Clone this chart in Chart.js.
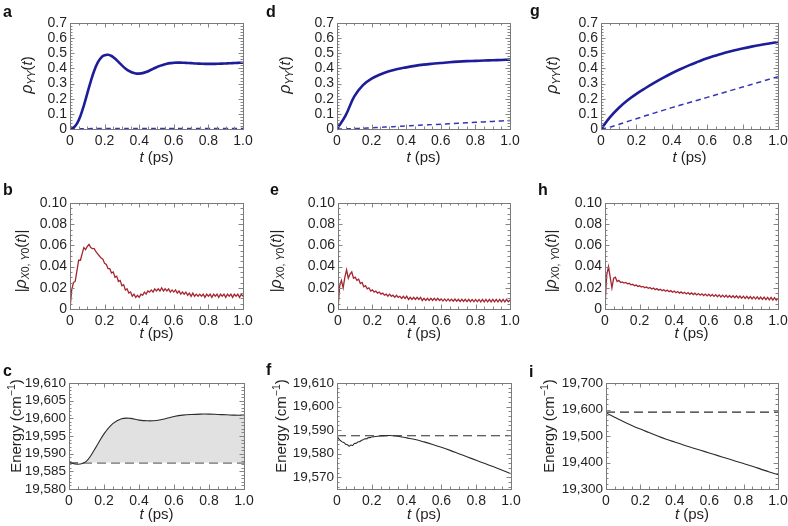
<!DOCTYPE html>
<html><head><meta charset="utf-8">
<script src="https://cdn.jsdelivr.net/npm/chart.js@4.4.1/dist/chart.umd.min.js"></script>
<style>
html,body{margin:0;padding:0;background:#fff;width:788px;height:526px;overflow:hidden;position:relative}
canvas{position:absolute}
.lbl{position:absolute;font:bold 16px "Liberation Sans",Arial,sans-serif;line-height:16px;color:#111}
</style></head><body>
<script>
// ---------- sampling grids (ps) ----------
const tFine = Array.from({length:101},(_,i)=>+(i/100).toFixed(2));
const tMid = Array.from({length:51},(_,i)=>+(i/50).toFixed(2));
const tCoarse = Array.from({length:21},(_,i)=>+(i/20).toFixed(2));

// ---------- tick labels ----------
const xTicks = [0,0.2,0.4,0.6,0.8,1.0];
const xTickLabels = ['0','0.2','0.4','0.6','0.8','1.0'];
const popTicks = [0,0.1,0.2,0.3,0.4,0.5,0.6,0.7];
const popTickLabels = ['0','0.1','0.2','0.3','0.4','0.5','0.6','0.7'];
const cohTicks = [0,0.02,0.04,0.06,0.08,0.10];
const cohTickLabels = ['0','0.02','0.04','0.06','0.08','0.10'];
const cTicks = [19580,19585,19590,19595,19600,19605,19610];
const cTickLabels = ['19,580','19,585','19,590','19,595','19,600','19,605','19,610'];
const fTicks = [19570,19580,19590,19600,19610];
const fTickLabels = ['19,570','19,580','19,590','19,600','19,610'];
const iTicks = [19300,19400,19500,19600,19700];
const iTickLabels = ['19,300','19,400','19,500','19,600','19,700'];

// ---------- panel a : rho_YY (solid on tMid, dashed on tCoarse) ----------
const aSolid = [0,0.008,0.035,0.085,0.155,0.235,0.315,0.385,0.438,0.472,
  0.487,0.490,0.482,0.465,0.443,0.420,0.400,0.384,0.373,0.367,
  0.366,0.369,0.376,0.386,0.397,0.408,0.417,0.425,0.431,0.435,
  0.437,0.438,0.438,0.437,0.436,0.435,0.433,0.432,0.431,0.430,
  0.430,0.430,0.430,0.431,0.432,0.433,0.434,0.435,0.436,0.437,0.438];
const aDashed = [0,0.001,0.002,0.003,0.003,0.004,0.004,0.004,0.004,0.004,0.004,
  0.004,0.004,0.004,0.004,0.004,0.004,0.004,0.004,0.004,0.004];
// ---------- panel d ----------
const dSolid = [0,0.09,0.215,0.29,0.333,0.36,0.381,0.396,0.407,0.417,0.425,
  0.431,0.436,0.441,0.445,0.448,0.450,0.452,0.454,0.456,0.458];
const dDashed = [0,0.001,0.003,0.005,0.008,0.011,0.014,0.017,0.020,0.023,0.026,
  0.029,0.032,0.035,0.038,0.041,0.044,0.047,0.050,0.053,0.056];
// ---------- panel g ----------
const gSolid = [0,0.077,0.139,0.190,0.232,0.269,0.304,0.337,0.368,0.396,0.422,
  0.445,0.467,0.486,0.504,0.519,0.532,0.544,0.555,0.565,0.575];
const gDashed = [0,0.012,0.030,0.050,0.068,0.087,0.105,0.123,0.141,0.158,0.175,
  0.192,0.209,0.226,0.243,0.260,0.277,0.294,0.311,0.328,0.345];

// ---------- panel b : |rho_X0,Y0| (tFine) ----------
const bVals = [0,0.018,0.025,0.026,0.036,0.046,0.046,0.052,0.058,0.056,
  0.059,0.061,0.058,0.057,0.057,0.054,0.052,0.050,0.048,0.047,
  0.043,0.042,0.038,0.038,0.034,0.035,0.030,0.031,0.026,0.027,
  0.022,0.023,0.018,0.019,0.015,0.016,0.012,0.014,0.011,0.013,
  0.011,0.014,0.013,0.016,0.014,0.017,0.016,0.018,0.016,0.019,
  0.017,0.019,0.017,0.020,0.017,0.019,0.017,0.019,0.016,0.018,
  0.016,0.018,0.015,0.017,0.014,0.016,0.014,0.016,0.013,0.015,
  0.012,0.015,0.012,0.014,0.012,0.014,0.012,0.014,0.011,0.014,
  0.012,0.014,0.011,0.014,0.012,0.014,0.011,0.014,0.012,0.014,
  0.011,0.014,0.012,0.014,0.011,0.014,0.012,0.014,0.011,0.014,
  0.012];
// ---------- panel e ----------
const eVals = [0,0.022,0.027,0.020,0.030,0.037,0.029,0.033,0.035,0.029,
  0.030,0.027,0.028,0.024,0.025,0.021,0.022,0.019,0.020,0.017,
  0.018,0.016,0.017,0.015,0.016,0.014,0.015,0.013,0.014,0.012,
  0.014,0.012,0.013,0.011,0.013,0.011,0.012,0.010,0.012,0.010,
  0.012,0.009,0.011,0.009,0.011,0.009,0.011,0.009,0.011,0.008,
  0.010,0.008,0.010,0.008,0.010,0.008,0.010,0.008,0.010,0.008,
  0.0095,0.0075,0.0095,0.0075,0.0095,0.0075,0.0093,0.0073,0.0093,0.0073,
  0.0092,0.0071,0.0092,0.0071,0.0091,0.0070,0.0091,0.0070,0.0090,0.0069,
  0.0090,0.0069,0.0090,0.0068,0.0090,0.0068,0.0090,0.0068,0.0090,0.0068,
  0.0090,0.0068,0.0090,0.0068,0.0090,0.0068,0.0090,0.0068,0.0090,0.0068,
  0.0085];
// ---------- panel h ----------
const hVals = [0.003,0.032,0.040,0.030,0.020,0.029,0.030,0.026,0.027,0.025,
  0.0255,0.0245,0.025,0.0237,0.0242,0.0228,0.0233,0.0220,0.0226,0.0213,
  0.0219,0.0207,0.0213,0.0201,0.0208,0.0195,0.0202,0.0189,0.0197,0.0183,
  0.0192,0.0178,0.0187,0.0173,0.0182,0.0168,0.0178,0.0163,0.0173,0.0158,
  0.0169,0.0154,0.0165,0.0150,0.0161,0.0146,0.0158,0.0142,0.0155,0.0139,
  0.0152,0.0136,0.0149,0.0133,0.0146,0.0130,0.0143,0.0127,0.0141,0.0124,
  0.0139,0.0121,0.0137,0.0119,0.0135,0.0116,0.0133,0.0114,0.0131,0.0112,
  0.0129,0.0110,0.0127,0.0108,0.0125,0.0106,0.0124,0.0104,0.0122,0.0102,
  0.0121,0.0100,0.0119,0.0098,0.0118,0.0096,0.0116,0.0094,0.0115,0.0092,
  0.0113,0.0090,0.0112,0.0088,0.0110,0.0086,0.0109,0.0084,0.0107,0.0082,
  0.0100];

// ---------- panel c : energy (tCoarse) ----------
const cSolid = [19587.5,19587.0,19587.9,19591.5,19595.6,19598.5,19599.9,19600.0,19599.5,19599.3,19599.4,
  19599.9,19600.5,19600.9,19601.1,19601.2,19601.2,19601.1,19601.0,19600.9,19600.9];
const cRef = 19587.4;
// ---------- panel f ----------
const fTimes = [0,0.01,0.02,0.03,0.04,0.05,0.06,0.07,0.08,0.09,0.10,0.11,0.12,0.13,0.14,0.15,0.16,0.17,0.18,0.19,0.20,
  0.25,0.30,0.35,0.40,0.45,0.50,0.55,0.60,0.65,0.70,0.75,0.80,0.85,0.90,0.95,1.00];
const fSolid = [19587.7,19586.3,19585.6,19585.0,19584.7,19584.0,19583.8,19583.2,19583.7,19583.5,19584.3,
  19584.4,19585.0,19585.1,19585.6,19585.9,19586.3,19586.3,19586.8,19586.8,19587.1,
  19587.5,19587.7,19587.4,19586.7,19586.0,19585.0,19583.9,19582.7,19581.4,19580.0,
  19578.6,19577.2,19575.8,19574.4,19573.0,19571.5];
const fRef = 19587.6;
// ---------- panel i ----------
const iSolid = [19587,19571,19555,19540,19526,19513,19500,19488,19477,19466,19456,
  19446,19436,19426,19416,19406,19396,19386,19375,19364,19354];
const iRef = 19590;

// ---------- styling ----------
const FONT = '"Liberation Sans", Arial, Helvetica, sans-serif';
const TXT = '#231f20';
const BLUE = '#1d1d9a', BLUE2 = '#3535b8', RED = '#a52630', BLK = '#2b2b2b';
const N = '15px '+FONT, I = 'italic 15px '+FONT, S = 'italic 10.5px '+FONT, Sn = '10.5px '+FONT;
const titlePop = [{t:'ρ',f:'italic 16px '+FONT},{t:'YY',f:S,dy:3},{t:'(',f:N},{t:'t',f:I},{t:')',f:N}];
const titleCoh = [{t:'|',f:N},{t:'ρ',f:'italic 16px '+FONT},{t:'X',f:S,dy:3},{t:'0, ',f:Sn,dy:3},{t:'Y',f:S,dy:3},{t:'0',f:Sn,dy:3},{t:'(',f:N},{t:'t',f:I},{t:')|',f:N}];
const titleEn = [{t:'Energy (cm',f:N},{t:'−1',f:Sn,dy:-6},{t:')',f:N}];
const titleX = [{t:'t',f:I},{t:' (ps)',f:N}];

const pairs = (xs, ys) => xs.map((x,k)=>({x, y: ys[k]}));
const flat = (xs, v) => xs.map(x=>({x, y: v}));

function drawRich(ctx, segs, cx, cy, rot){
  ctx.save(); ctx.translate(cx, cy); if (rot) ctx.rotate(-Math.PI/2);
  ctx.fillStyle = TXT; ctx.textBaseline = 'alphabetic'; ctx.textAlign = 'left';
  let tot = 0; const ws = [];
  for (const s of segs){ ctx.font = s.f; const w = ctx.measureText(s.t).width; ws.push(w); tot += w; }
  let x = -tot/2;
  segs.forEach((s,k)=>{ ctx.font = s.f; ctx.fillText(s.t, x, 5 + (s.dy||0)); x += ws[k]; });
  ctx.restore();
}

const decor = {
  id: 'decor',
  afterDatasetsDraw(chart){
    const p = chart.options.plugins.decor;
    const ctx = chart.ctx, a = chart.chartArea, xs = chart.scales.x, ys = chart.scales.y;
    ctx.save();
    ctx.strokeStyle = '#858585'; ctx.lineWidth = 1;
    const line = (x1,y1,x2,y2)=>{ ctx.beginPath(); ctx.moveTo(x1,y1); ctx.lineTo(x2,y2); ctx.stroke(); };
    const isMajor = (v, arr) => arr.some(t => Math.abs(t - v) < 1e-7 * Math.max(1, Math.abs(v)));
    let st = Math.ceil(xs.min / p.xMinor - 1e-9);
    for (let k = st; k * p.xMinor <= xs.max + 1e-9; k++){
      const v = k * p.xMinor, L = isMajor(v, p.xMaj) ? 4.5 : 2.5;
      const x = Math.round(xs.getPixelForValue(v)) + 0.5;
      line(x, a.bottom, x, a.bottom - L); line(x, a.top, x, a.top + L);
    }
    st = Math.ceil(ys.min / p.yMinor - 1e-9);
    for (let k = st; k * p.yMinor <= ys.max + 1e-7; k++){
      const v = k * p.yMinor, L = isMajor(v, p.yMaj) ? 4.5 : 2.5;
      const y = Math.round(ys.getPixelForValue(v)) + 0.5;
      line(a.left, y, a.left + L, y); line(a.right, y, a.right - L, y);
    }
    ctx.strokeStyle = '#7a7a7a';
    ctx.strokeRect(Math.round(a.left)+0.5, Math.round(a.top)+0.5, Math.round(a.right - a.left), Math.round(a.bottom - a.top));
    ctx.restore();
    drawRich(ctx, p.yTitle, p.yTitleX - p.cvLeft, p.yTitleY - p.cvTop, true);
    drawRich(ctx, titleX, (a.left + a.right)/2, a.bottom + p.xTitleDy, false);
  }
};

function makePanel(p){
  const cvLeft = p.L - 70, cvTop = p.T - 12;
  const w = p.R - p.L + 86, h = p.B - p.T + 52;
  const cv = document.createElement('canvas');
  cv.width = w; cv.height = h;
  cv.style.left = cvLeft + 'px'; cv.style.top = cvTop + 'px';
  cv.style.width = w + 'px'; cv.style.height = h + 'px';
  document.body.appendChild(cv);
  const tickFont = {family: FONT, size: p.tickSize || 14};
  new Chart(cv.getContext('2d'), {
    type: 'line',
    data: { datasets: p.datasets },
    options: {
      responsive: false, animation: false, devicePixelRatio: 1,
      layout: { padding: { left: 0, top: 12, right: 16, bottom: 0 } },
      elements: { point: { radius: 0 }, line: { tension: 0 } },
      plugins: { legend: { display: false }, tooltip: { enabled: false },
        decor: { xMinor: 0.05, xMaj: xTicks, yMinor: p.yMinor, yMaj: p.yTicks,
          yTitle: p.yTitle, yTitleX: p.yTitleX, yTitleY: p.yTitleY, xTitleDy: p.xTitleDy,
          cvLeft, cvTop } },
      scales: {
        x: { type: 'linear', min: 0, max: 1,
          grid: { display: false, drawTicks: false }, border: { display: false },
          afterBuildTicks: s => { s.ticks = xTicks.map(v => ({value: v})); },
          ticks: { padding: 4, color: TXT, font: {family: FONT, size: 14}, maxRotation: 0, autoSkip: false,
            callback: (v, k) => xTickLabels[k] },
          afterFit: s => { s.height = 40; s.paddingLeft = 0; s.paddingRight = 0; } },
        y: { type: 'linear', min: p.yMin, max: p.yMax,
          grid: { display: false, drawTicks: false }, border: { display: false },
          afterBuildTicks: s => { s.ticks = p.yTicks.map(v => ({value: v})); },
          ticks: { padding: 3, color: TXT, font: tickFont, autoSkip: false,
            callback: (v, k) => p.yTickLabels[k] },
          afterFit: s => { s.width = 70; s.paddingTop = 0; s.paddingBottom = 0; } }
      }
    },
    plugins: [decor]
  });
}

const solidBlue = d => ({data: d, borderColor: BLUE, borderWidth: 2.6, tension: 0.4});
const dashBlue = d => ({data: d, borderColor: BLUE2, borderWidth: 1.5, borderDash: [5,4], tension: 0.4});
const redLine = d => ({data: d, borderColor: RED, borderWidth: 1.3});
const enLine = d => ({data: d, borderColor: BLK, borderWidth: 1.1, tension: 0.35});
const refLine = d => ({data: d, borderColor: BLK, borderWidth: 1.1, borderDash: [9,5]});

const rowPop = {T: 23, B: 129, yMin: 0, yMax: 0.7, yTicks: popTicks, yTickLabels: popTickLabels, yMinor: 0.02, yTitle: titlePop, yTitleY: 75, xTitleDy: 28};
const rowCoh = {T: 203, B: 309, yMin: 0, yMax: 0.1, yTicks: cohTicks, yTickLabels: cohTickLabels, yMinor: 0.005, yTitle: titleCoh, yTitleY: 261, xTitleDy: 24};
const rowEn = {T: 383, B: 489, yTitle: titleEn, yTitleY: 426, xTitleDy: 25, tickSize: 13.5};

const panels = [
  Object.assign({}, rowPop, {L: 70, R: 243, yTitleX: 27, datasets: [solidBlue(pairs(tMid, aSolid)), dashBlue(pairs(tCoarse, aDashed))]}),
  Object.assign({}, rowPop, {L: 337, R: 510, yTitleX: 285, datasets: [solidBlue(pairs(tCoarse, dSolid)), dashBlue(pairs(tCoarse, dDashed))]}),
  Object.assign({}, rowPop, {L: 601, R: 778, yTitleX: 552, datasets: [solidBlue(pairs(tCoarse, gSolid)), dashBlue(pairs(tCoarse, gDashed))]}),
  Object.assign({}, rowCoh, {L: 70, R: 243, yTitleX: 21, datasets: [redLine(pairs(tFine, bVals))]}),
  Object.assign({}, rowCoh, {L: 338, R: 510, yTitleX: 276, datasets: [redLine(pairs(tFine, eVals))]}),
  Object.assign({}, rowCoh, {L: 605, R: 778, yTitleX: 551, datasets: [redLine(pairs(tFine, hVals))]}),
  Object.assign({}, rowEn, {L: 69, R: 244, yTitleX: 16, yMin: 19580, yMax: 19610, yTicks: cTicks, yTickLabels: cTickLabels, yMinor: 1,
    datasets: [Object.assign(enLine(pairs(tCoarse, cSolid)), {fill: {target: 1, above: '#e1e1e1', below: 'rgba(0,0,0,0)'}}), refLine(flat(tCoarse, cRef))]}),
  Object.assign({}, rowEn, {L: 337, R: 511, yTitleX: 281, yMin: 19565, yMax: 19610, yTicks: fTicks, yTickLabels: fTickLabels, yMinor: 2,
    datasets: [enLine(pairs(fTimes, fSolid)), refLine(flat(tCoarse, fRef))]}),
  Object.assign({}, rowEn, {L: 606, R: 778, yTitleX: 549, yMin: 19300, yMax: 19700, yTicks: iTicks, yTickLabels: iTickLabels, yMinor: 20,
    datasets: [enLine(pairs(tCoarse, iSolid)), refLine(flat(tCoarse, iRef))]})
];
panels.forEach(makePanel);

// panel letters
const letters = [['a',3,17],['d',266,17],['g',530,16],['b',3,195],['e',270,195],['h',538,195],['c',3,376],['f',266,375],['i',529,377]];
letters.forEach(([t,x,base])=>{
  const d = document.createElement('div'); d.className = 'lbl'; d.textContent = t;
  d.style.left = x + 'px'; d.style.top = (base - 13.5) + 'px';
  document.body.appendChild(d);
});
</script></body></html>
